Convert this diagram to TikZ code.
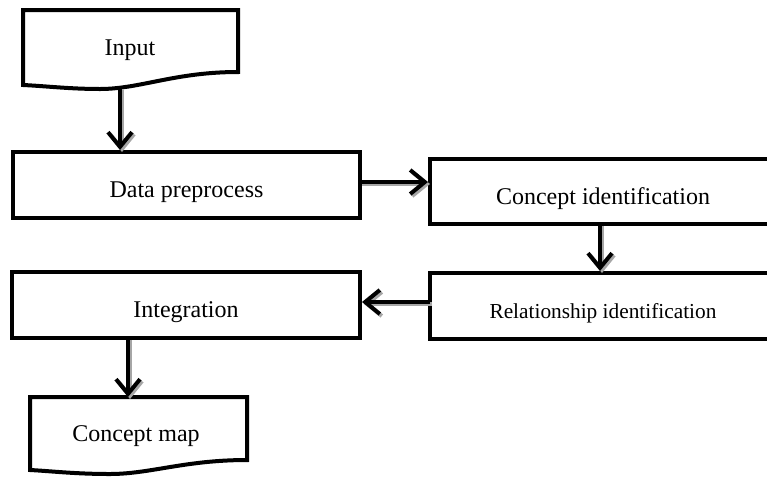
\documentclass[tikz,border=0pt]{standalone}
\usepackage{fontspec}
\setmainfont{Liberation Serif}
\usetikzlibrary{arrows.meta}
\tikzset{
  box/.style={draw, line width=3pt, inner sep=0pt, fill=white, text height=21pt, text depth=2pt, font=\fontsize{18}{21}\selectfont},
  txt/.style={inner sep=0pt, font=\fontsize{18}{21}\selectfont},
  docshape/.style={draw, line width=3pt, fill=white},
  flow/.style={line width=3pt, -{Straight Barb[length=11pt,width=18pt]}},
  flowshadow/.style={flow, draw=black!35},
}
\begin{document}
\begin{tikzpicture}[x=0.75pt,y=-0.75pt]
\useasboundingbox (0,0) rectangle (767,476);
\clip (0,0) rectangle (767,476);
% Input document
\draw[docshape] (23,10) -- (238,10) -- (238,72) .. controls (175,72) and (140,89) .. (100,89) .. controls (70,89) and (45,86) .. (23,85) -- cycle;
\node[txt] (in) at (130,50) {Input};
\coordinate (inb) at (120,88);
% boxes
\node[box, minimum width=260.25pt, minimum height=49.5pt] (dp) at (186.5,185) {Data preprocess};
\node[box, minimum width=259.5pt, minimum height=48.75pt] (ci) at (603,191.5) {Concept identification};
\node[box, minimum width=259.5pt, minimum height=49.5pt, font=\fontsize{16}{19}\selectfont] (ri) at (603,306) {Relationship identification};
\node[box, minimum width=261pt, minimum height=49.5pt] (ig) at (186,305) {Integration};
% Concept map document
\draw[docshape] (30,397) -- (247,397) -- (247,460) .. controls (185,460) and (150,474) .. (110,474) .. controls (75,474) and (50,471) .. (30,470) -- cycle;
\node[txt] (cm) at (136,436) {Concept map};
\coordinate (cmt) at (128,397);
% connectors
\coordinate (a2) at (360,182);
\coordinate (a3) at (600,224);
\coordinate (a4) at (430,302);
\coordinate (a5) at (128,338);
\begin{scope}[transform canvas={shift={(1.5pt,-1.5pt)}}]
\draw[flowshadow] (inb) -- (inb |- dp.north);
\draw[flowshadow] (a2) -- (a2 -| ci.west);
\draw[flowshadow] (a3) -- (a3 |- ri.north);
\draw[flowshadow] (a4) -- (a4 -| ig.east);
\draw[flowshadow] (a5) -- (cmt);
\end{scope}
\draw[flow] (inb) -- (inb |- dp.north);
\draw[flow] (a2) -- (a2 -| ci.west);
\draw[flow] (a3) -- (a3 |- ri.north);
\draw[flow] (a4) -- (a4 -| ig.east);
\draw[flow] (a5) -- (cmt);
\end{tikzpicture}
\end{document}
